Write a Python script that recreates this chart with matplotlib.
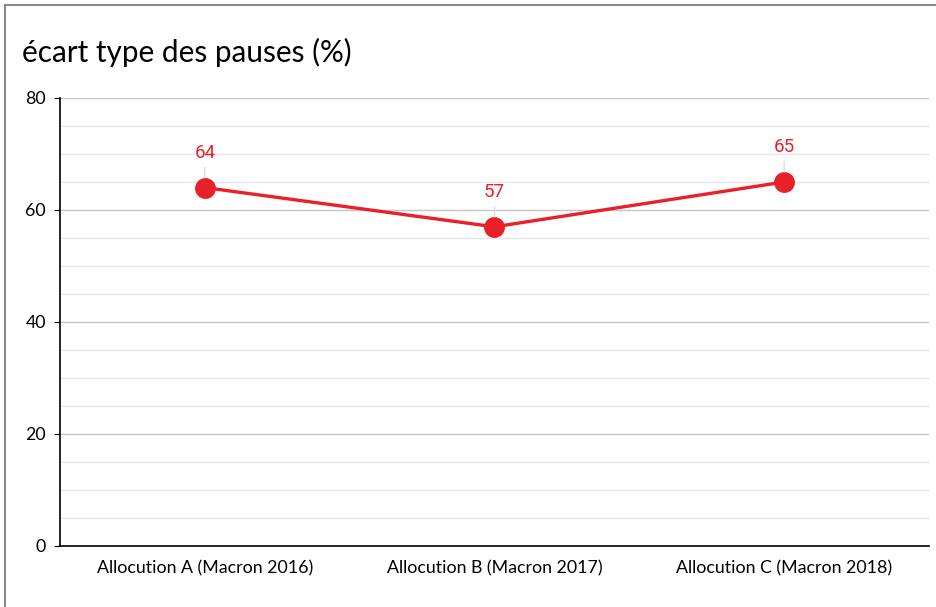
import matplotlib.pyplot as plt
from matplotlib.patches import Rectangle
from matplotlib.ticker import MultipleLocator

categories = ['Allocution A (Macron 2016)', 'Allocution B (Macron 2017)', 'Allocution C (Macron 2018)']
values = [64, 57, 65]
title = 'écart type des pauses (%)'

red = '#e8202a'

fig = plt.figure(figsize=(9.36, 6.07), dpi=100)
ax = fig.add_axes([60 / 936, 1 - 546 / 607, 869 / 936, 448 / 607])

# outer frame (left and top edges visible)
fig.patches.append(Rectangle((5 / 936, -0.1), 1.2, 1 - 5 / 607 + 0.1, transform=fig.transFigure,
                             fill=False, edgecolor='#8a8a8a', linewidth=1.5))

x = list(range(len(categories)))
ax.plot(x, values, color=red, linewidth=2.4, marker='o', markersize=14, zorder=3)

for xi, v in zip(x, values):
    ax.annotate(str(v), (xi, v), xytext=(0, 25), textcoords='offset points',
                ha='center', va='center', color=red, fontsize=13.5, family='Roboto',
                arrowprops=dict(arrowstyle='-', color='#d8d8d8', lw=0.9, shrinkA=2, shrinkB=7))

ax.set_xlim(-0.5, 2.5)
ax.set_ylim(0, 80)
ax.set_xticks(x)
ax.set_xticklabels(categories, family='Lato', fontsize=12.8)
ax.yaxis.set_major_locator(MultipleLocator(20))
ax.yaxis.set_minor_locator(MultipleLocator(5))
ax.grid(axis='y', which='major', color='#c4c4c4', linewidth=1)
ax.grid(axis='y', which='minor', color='#e6e6e6', linewidth=1)
ax.set_axisbelow(True)
for lab in ax.get_yticklabels():
    lab.set_family('Lato')
    lab.set_fontsize(12.8)
ax.tick_params(axis='x', length=0, pad=10)
ax.tick_params(axis='y', which='major', length=4, pad=6)
ax.tick_params(axis='y', which='minor', length=0)
ax.spines['top'].set_visible(False)
ax.spines['right'].set_visible(False)
ax.spines['left'].set_linewidth(1.2)
ax.spines['bottom'].set_linewidth(1.2)

fig.text(22 / 936, 1 - 52 / 607, title, family='Lato', fontsize=21.4, va='center', ha='left')

fig.savefig('out.png', dpi=100)
